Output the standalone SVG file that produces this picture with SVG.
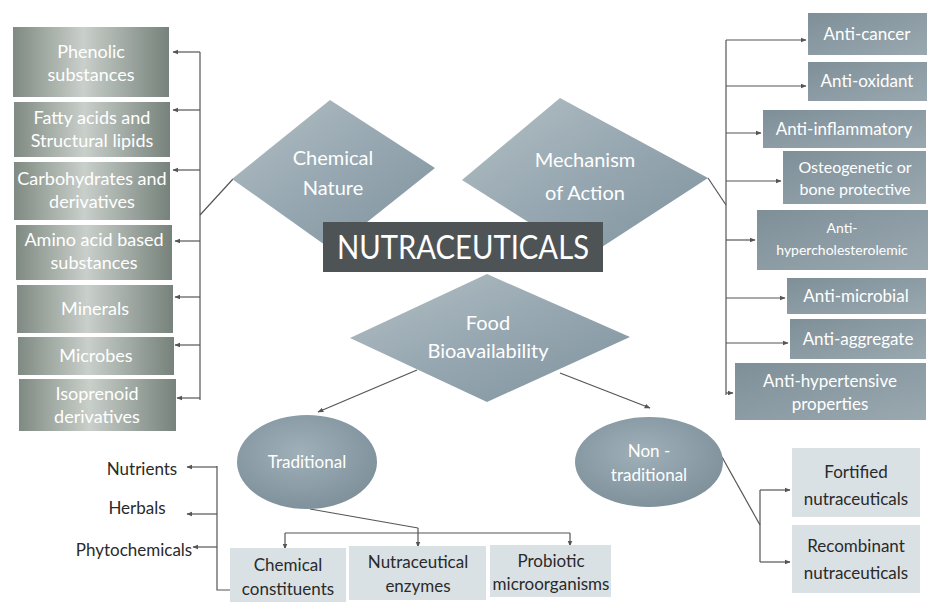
<svg xmlns="http://www.w3.org/2000/svg" width="929" height="602" viewBox="0 0 929 602">
<defs>
  <linearGradient id="gLeft" x1="0" y1="0" x2="1" y2="0">
    <stop offset="0" stop-color="#7f8a82"/>
    <stop offset="0.45" stop-color="#c9cfca"/>
    <stop offset="1" stop-color="#76827b"/>
  </linearGradient>
  <linearGradient id="gRight" x1="0" y1="0" x2="1" y2="1">
    <stop offset="0" stop-color="#7f8f98"/>
    <stop offset="1" stop-color="#9aa9b0"/>
  </linearGradient>
  <linearGradient id="gDia" x1="0" y1="0" x2="1" y2="1">
    <stop offset="0" stop-color="#b4bfc4"/>
    <stop offset="0.5" stop-color="#96a7b1"/>
    <stop offset="1" stop-color="#7f929d"/>
  </linearGradient>
  <radialGradient id="gEll" cx="0.45" cy="0.4" r="0.7">
    <stop offset="0" stop-color="#9fb0b9"/>
    <stop offset="1" stop-color="#7a8c96"/>
  </radialGradient>
  <marker id="arr" viewBox="0 0 10 10" refX="9" refY="5" markerWidth="5" markerHeight="5" orient="auto">
    <path d="M0,1 L10,5 L0,9 Z" fill="#555"/>
  </marker>
  <style>
    .lb{fill:url(#gLeft);}
    .rb{fill:url(#gRight);}
    .dia{fill:url(#gDia);}
    .ell{fill:url(#gEll);}
    .bb{fill:#d9e1e5;}
    .wt{font-family:Lato,"Open Sans","Liberation Sans",sans-serif;fill:#ffffff;text-anchor:middle;}
    .dt{font-family:Lato,"Open Sans","Liberation Sans",sans-serif;fill:#2a2a2a;text-anchor:middle;font-size:17px;}
    .ln{stroke:#555;stroke-width:1.2;fill:none;}
    .ar{stroke:#555;stroke-width:1.2;fill:none;marker-end:url(#arr);}
  </style>
</defs>
<rect width="929" height="602" fill="#ffffff"/>

<g id="connectors">
  <!-- left bracket -->
  <path class="ln" d="M200,52 L200,400"/>
  <path class="ln" d="M233,179 L200,215"/>
  <path class="ar" d="M200,52 L173,52"/>
  <path class="ar" d="M200,110 L173,110"/>
  <path class="ar" d="M200,170 L173,170"/>
  <path class="ar" d="M200,241 L175,241"/>
  <path class="ar" d="M200,297 L175,297"/>
  <path class="ar" d="M200,345 L175,345"/>
  <path class="ar" d="M200,398 L177,398"/>
  <!-- right bracket -->
  <path class="ln" d="M708,178 L726,205"/>
  <path class="ln" d="M726,40 L726,395"/>
  <path class="ar" d="M726,40 L806,40"/>
  <path class="ar" d="M726,86 L806,86"/>
  <path class="ar" d="M726,133 L761,133"/>
  <path class="ar" d="M726,181 L781,181"/>
  <path class="ar" d="M726,240 L755,240"/>
  <path class="ar" d="M726,298 L785,298"/>
  <path class="ar" d="M726,343 L788,343"/>
  <path class="ar" d="M726,393 L733,393"/>
  <!-- food to ellipses -->
  <path class="ar" d="M417,370 L318,412"/>
  <path class="ar" d="M560,373 L650,408"/>
  <!-- traditional children -->
  <path class="ln" d="M310,509 L418,528"/>
  <path class="ln" d="M285,533 L570,533"/>
  <path class="ar" d="M285,533 L285,549"/>
  <path class="ar" d="M418,528 L418,547"/>
  <path class="ar" d="M570,533 L570,546"/>
  <!-- left list bracket -->
  <path class="ln" d="M217,466 L217,590 L230,590"/>
  <path class="ar" d="M217,467 L187,467"/>
  <path class="ar" d="M217,514 L187,514"/>
  <path class="ar" d="M217,547 L193,547"/>
  <!-- non-traditional children -->
  <path class="ln" d="M722,457 L760,525"/>
  <path class="ln" d="M760,490 L760,562"/>
  <path class="ar" d="M760,490 L790,490"/>
  <path class="ar" d="M760,562 L790,562"/>
</g>

<!-- Left boxes -->
<g id="n-phenolic"><rect class="lb" x="13" y="27" width="156" height="70"/>
  <text class="wt" font-size="18" x="91" y="58">Phenolic</text><text class="wt" font-size="18" x="91" y="81">substances</text></g>
<g id="n-fatty"><rect class="lb" x="14" y="102" width="156" height="55"/>
  <text class="wt" font-size="18" x="92" y="124">Fatty acids and</text><text class="wt" font-size="18" x="92" y="147">Structural lipids</text></g>
<g id="n-carbo"><rect class="lb" x="14" y="162" width="156" height="58"/>
  <text class="wt" font-size="18" x="92" y="185">Carbohydrates and</text><text class="wt" font-size="18" x="92" y="208">derivatives</text></g>
<g id="n-amino"><rect class="lb" x="16" y="225" width="156" height="55"/>
  <text class="wt" font-size="18" x="94" y="246">Amino acid based</text><text class="wt" font-size="18" x="94" y="269">substances</text></g>
<g id="n-minerals"><rect class="lb" x="17" y="285" width="156" height="48"/>
  <text class="wt" font-size="18" x="95" y="315">Minerals</text></g>
<g id="n-microbes"><rect class="lb" x="18" y="337" width="156" height="38"/>
  <text class="wt" font-size="18" x="96" y="362">Microbes</text></g>
<g id="n-isoprenoid"><rect class="lb" x="19" y="379" width="157" height="52"/>
  <text class="wt" font-size="18" x="97" y="400">Isoprenoid</text><text class="wt" font-size="18" x="97" y="423">derivatives</text></g>

<!-- Right boxes -->
<g id="n-cancer"><rect class="rb" x="808" y="13" width="119" height="42"/>
  <text class="wt" font-size="17" x="867" y="40">Anti-cancer</text></g>
<g id="n-oxidant"><rect class="rb" x="808" y="62" width="119" height="39"/>
  <text class="wt" font-size="17" x="867" y="87">Anti-oxidant</text></g>
<g id="n-inflam"><rect class="rb" x="763" y="110" width="163" height="38"/>
  <text class="wt" font-size="17" x="844" y="135">Anti-inflammatory</text></g>
<g id="n-osteo"><rect class="rb" x="783" y="151" width="143" height="53"/>
  <text class="wt" font-size="16" x="855" y="173">Osteogenetic or</text><text class="wt" font-size="16" x="855" y="195">bone protective</text></g>
<g id="n-chol"><rect class="rb" x="757" y="210" width="171" height="60"/>
  <text class="wt" font-size="14" x="842" y="233">Anti-</text><text class="wt" font-size="14" x="842" y="255">hypercholesterolemic</text></g>
<g id="n-microbial"><rect class="rb" x="787" y="278" width="139" height="36"/>
  <text class="wt" font-size="17" x="856" y="302">Anti-microbial</text></g>
<g id="n-aggregate"><rect class="rb" x="790" y="319" width="136" height="40"/>
  <text class="wt" font-size="17" x="858" y="345">Anti-aggregate</text></g>
<g id="n-hyper"><rect class="rb" x="735" y="363" width="191" height="57"/>
  <text class="wt" font-size="17" x="830" y="387">Anti-hypertensive</text><text class="wt" font-size="17" x="830" y="410">properties</text></g>

<!-- Diamonds -->
<g id="n-chemical"><polygon class="dia" points="232,179 330,100 435,168 332,250"/>
  <text class="wt" font-size="20" x="333" y="165">Chemical</text><text class="wt" font-size="20" x="333" y="195">Nature</text></g>
<g id="n-mechanism"><polygon class="dia" points="462,180 560,98 708,178 585,258"/>
  <text class="wt" font-size="20" x="585" y="167">Mechanism</text><text class="wt" font-size="20" x="585" y="200">of Action</text></g>
<g id="n-food"><polygon class="dia" points="350,338 487,274 630,337 487,402"/>
  <text class="wt" font-size="20" x="488" y="330">Food</text><text class="wt" font-size="20" x="488" y="358">Bioavailability</text></g>

<!-- Center -->
<g id="n-nutra"><rect x="323" y="222" width="280" height="50" fill="#4e5456"/>
  <text class="wt" font-size="33" x="463" y="259" textLength="252" lengthAdjust="spacingAndGlyphs">NUTRACEUTICALS</text></g>

<!-- Ellipses -->
<g id="n-traditional"><ellipse class="ell" cx="307" cy="462" rx="70" ry="47"/>
  <text class="wt" font-size="17" x="307" y="468">Traditional</text></g>
<g id="n-nontraditional"><ellipse class="ell" cx="649" cy="462" rx="74" ry="45"/>
  <text class="wt" font-size="17" x="649" y="457">Non -</text><text class="wt" font-size="17" x="649" y="481">traditional</text></g>

<!-- Left list -->
<g id="n-nutrients"><text class="dt" x="142" y="475">Nutrients</text></g>
<g id="n-herbals"><text class="dt" x="137" y="514">Herbals</text></g>
<g id="n-phyto"><text class="dt" x="134" y="556">Phytochemicals</text></g>

<!-- Bottom boxes -->
<g id="n-chemconst"><rect class="bb" x="230" y="548" width="116" height="54"/>
  <text class="dt" x="288" y="571">Chemical</text><text class="dt" x="288" y="595">constituents</text></g>
<g id="n-enzymes"><rect class="bb" x="349" y="546" width="137" height="54"/>
  <text class="dt" x="418" y="568">Nutraceutical</text><text class="dt" x="418" y="592">enzymes</text></g>
<g id="n-probiotic"><rect class="bb" x="490" y="545" width="121" height="52"/>
  <text class="dt" x="551" y="567">Probiotic</text><text class="dt" x="551" y="590">microorganisms</text></g>

<!-- Right bottom boxes -->
<g id="n-fortified"><rect class="bb" x="792" y="448" width="128" height="69"/>
  <text class="dt" x="856" y="478">Fortified</text><text class="dt" x="856" y="505">nutraceuticals</text></g>
<g id="n-recombinant"><rect class="bb" x="792" y="525" width="128" height="68"/>
  <text class="dt" x="856" y="552">Recombinant</text><text class="dt" x="856" y="579">nutraceuticals</text></g>
</svg>
